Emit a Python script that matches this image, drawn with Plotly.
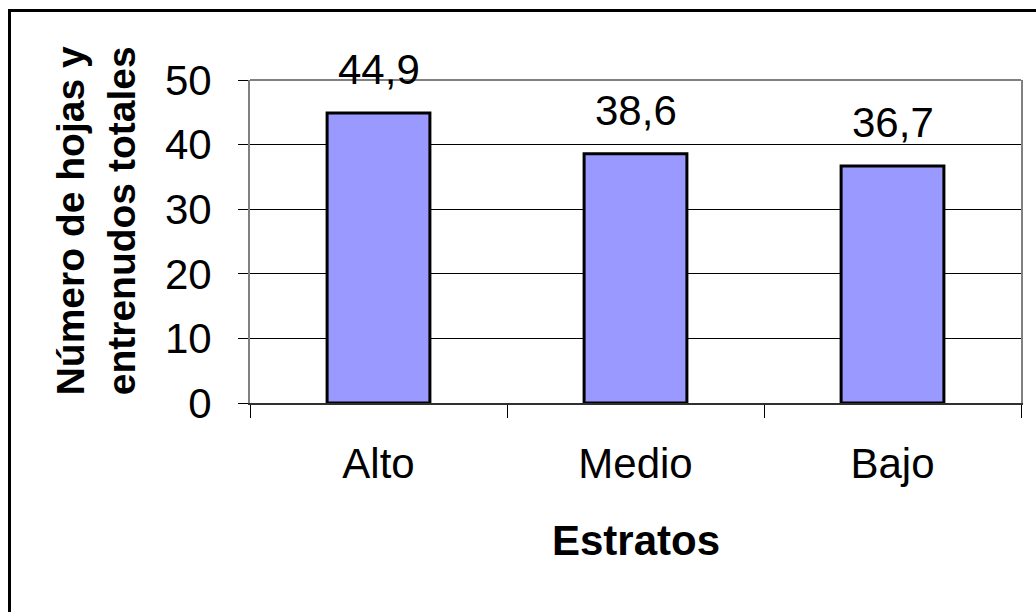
import plotly.graph_objects as go

# Chart data
estratos = ["Alto", "Medio", "Bajo"]
valores = [44.9, 38.6, 36.7]
etiquetas = ["44,9", "38,6", "36,7"]
y_ticks = [0, 10, 20, 30, 40, 50]

FONT = "Liberation Sans, Arial, sans-serif"

fig = go.Figure()
fig.add_trace(go.Bar(
    x=estratos,
    y=valores,
    width=0.4,
    marker=dict(color="#9999FF", line=dict(color="black", width=3)),
    hoverinfo="skip",
))

# Value labels above each bar
for cat, val, lab in zip(estratos, valores, etiquetas):
    fig.add_annotation(
        x=cat, y=val, text=lab, showarrow=False,
        yanchor="middle", yshift=43,
        font=dict(family=FONT, size=42, color="black"),
    )

# Axis titles
fig.add_annotation(
    xref="paper", yref="paper", x=-0.2, y=0.565,
    text="<b>Número de hojas y<br>entrenudos totales</b>",
    textangle=-90, showarrow=False, xanchor="center", yanchor="middle",
    font=dict(family=FONT, size=39, color="black"),
)
fig.add_annotation(
    xref="paper", yref="paper", x=0.5, y=-0.425,
    text="<b>Estratos</b>", showarrow=False,
    xanchor="center", yanchor="middle",
    font=dict(family=FONT, size=42, color="black"),
)

# Plot-area top edge
fig.add_shape(type="line", xref="paper", yref="paper", x0=0, x1=1, y0=1, y1=1,
              line=dict(color="#808080", width=2), layer="above")
# Outer chart frame
fig.add_shape(type="rect", xref="paper", yref="paper",
              x0=(9.5 - 250) / 771, x1=(1060 - 250) / 771,
              y0=(403.5 - 640) / 323.5, y1=(403.5 - 10.5) / 323.5,
              line=dict(color="black", width=3), layer="above")

fig.update_layout(
    width=1036, height=612,
    margin=dict(l=250, r=15, t=80, b=208.5),
    paper_bgcolor="white", plot_bgcolor="white",
    showlegend=False,
    bargap=0.6,
    font=dict(family=FONT, size=42, color="black"),
    xaxis=dict(
        showline=True, linecolor="#303030", linewidth=2,
        ticks="outside", tickson="boundaries", ticklen=13, tickcolor="black", tickwidth=1,
        tickfont=dict(family=FONT, size=42, color="black"),
        ticklabelstandoff=23,
        showgrid=False, zeroline=False,
    ),
    yaxis=dict(
        range=[0, 50], tickvals=y_ticks,
        showline=True, linecolor="#808080", linewidth=2, mirror=True,
        ticks="outside", ticklen=10, tickcolor="black", tickwidth=1,
        tickfont=dict(family=FONT, size=42, color="black"),
        ticklabelstandoff=18,
        showgrid=True, gridcolor="black", gridwidth=1,
        zeroline=False,
    ),
)

fig.write_html("out.html")
